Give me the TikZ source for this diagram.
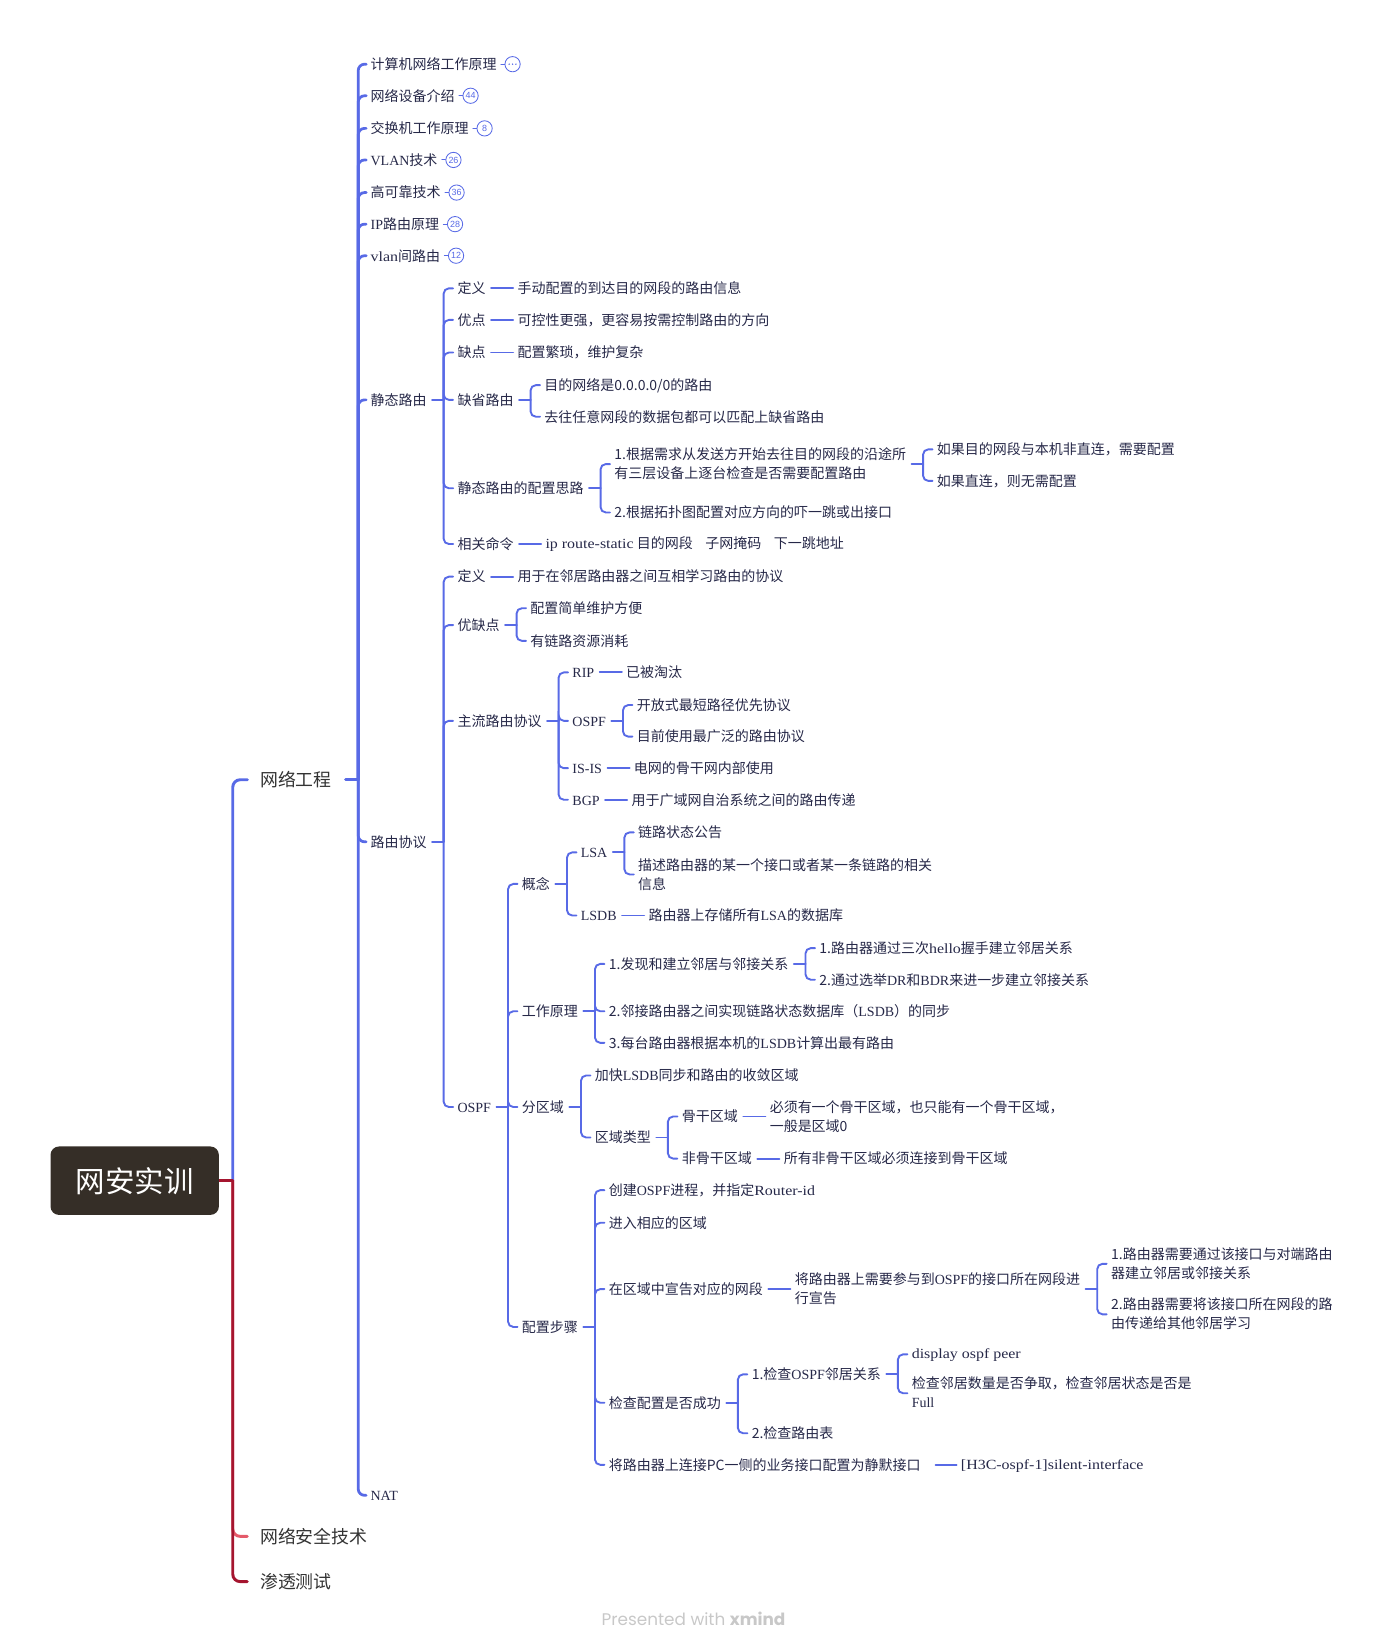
\documentclass[tikz,border=0pt]{standalone}
\usepackage{fontspec}
\setmainfont{Noto Sans CJK SC}
\newfontfamily\latf{Liberation Serif}
\newfontfamily\latw[FakeStretch=1.14]{Liberation Serif}
\newfontfamily\dotf{Liberation Sans}
\newfontfamily\wmf{Poppins}
\usetikzlibrary{calc}
\definecolor{bl}{RGB}{88,106,230}
\definecolor{tx}{RGB}{38,40,72}
\definecolor{rootc}{RGB}{53,46,39}
\definecolor{dred}{RGB}{165,21,47}
\definecolor{pk}{RGB}{228,90,106}
\definecolor{wmc}{RGB}{200,200,200}
\newcommand\st{\rule[-0.12em]{0pt}{1em}}
\newcommand\e[1]{{\latf #1}}
\newcommand\ew[1]{{\latw #1}}
\newcommand\fk[4]{\path let \p1=(#2.east) in node[txt,anchor=west] (#1) at (\x1+29pt,-#3pt) {#4};}
\newcommand\sk[4][30]{\path let \p1=(#3.east) in node[txt,anchor=west] (#2) at (\x1+#1pt,\y1) {#4};}
\newcommand\fork[2]{%
  \coordinate (bus) at ($(#1.east)+(16,0)$);
  \draw[conn] ($(#1.east)+(5,0)$) -- (bus);
  \foreach \cc in {#2}{\draw[conn,rounded corners=5pt] (bus) |- ($(\cc.west)+(-4,0)$);}}
\newcommand\one[2]{\draw[conn] ($(#1.east)+(5,0)$) -- ($(#2.west)+(-4,0)$);}
\newcommand\badge[2]{\node[badge] (#1b) at ($(#1.east)+(15,0)$) {#2};
  \draw[conn,line width=1pt] ($(#1.east)+(4,0)$) -- (#1b.west);}
\tikzset{
  txt/.style={inner sep=0pt, text=tx, font=\fontsize{13.3}{18}\selectfont, align=left, execute at begin node=\st},
  mainT/.style={inner sep=0pt, text={rgb,255:red,51;green,51;blue,51}, font=\fontsize{17}{20}\selectfont, execute at begin node=\st},
  conn/.style={draw=bl, line width=1.8pt, line cap=round},
  badge/.style={circle, draw=bl, line width=0.8pt, minimum size=14.5pt, inner sep=0pt, text=bl, font=\dotf\fontsize{8.5}{8.5}\selectfont},
  rootbox/.style={fill=rootc, rounded corners=8pt, minimum width=160pt, minimum height=65pt, text=white, font=\fontsize{28}{30}\selectfont},
}
\begin{document}
\begin{tikzpicture}[x=1pt,y=-1pt]
\useasboundingbox (0,0) rectangle (1319,1568);
% root and main topics
\node[rootbox] (root) at (128,1122) {网安实训};
\node[mainT,anchor=west] (top) at (247,741) {网络工程};
\node[mainT,anchor=west] (sec) at (247,1460) {网络安全技术};
\node[mainT,anchor=west] (pen) at (247,1503) {渗透测试};
\coordinate (tj) at ($(root.east)+(13,0)$);
\draw[conn,line width=2.8pt,rounded corners=7pt] (tj) |- ($(top.west)+(-12,0)$);
\draw[draw=pk,line width=2.8pt,rounded corners=7pt,line cap=round] (tj) |- ($(sec.west)+(-12,0)$);
\draw[draw=dred,line width=2.8pt,rounded corners=7pt,line cap=round] (tj) |- ($(pen.west)+(-12,0)$);
\draw[draw=dred,line width=2.8pt] (root.east) -- (tj);
% level 1
\node[txt,anchor=west] (a1) at (352,61) {计算机网络工作原理};
\node[txt,anchor=west] (a2) at (352,91) {网络设备介绍};
\node[txt,anchor=west] (a3) at (352,122) {交换机工作原理};
\node[txt,anchor=west] (a4) at (352,152) {\e{VLAN}技术};
\node[txt,anchor=west] (a5) at (352,183) {高可靠技术};
\node[txt,anchor=west] (a6) at (352,213) {\e{IP}路由原理};
\node[txt,anchor=west] (a7) at (352,243) {\ew{vlan}间路由};
\node[txt,anchor=west] (a8) at (352,380) {静态路由};
\node[txt,anchor=west] (a9) at (352,800) {路由协议};
\node[txt,anchor=west] (a10) at (352,1421) {\e{NAT}};
\coordinate (b0) at ($(top.east)+(25,0)$);
\draw[conn,line width=2.8pt] ($(top.east)+(13,0)$) -- (b0);
\foreach \cc in {a1,a2,a3,a4,a5,a6,a7,a8,a9,a10}{\draw[conn,line width=2.6pt,rounded corners=6pt] (b0) |- ($(\cc.west)+(-4,0)$);}
\badge{a1}{}
\foreach \dx in {-3.2,0,3.2}{\fill[bl] ($(a1b.center)+(\dx,0)$) circle (0.75);}
\badge{a2}{44}
\badge{a3}{8}
\badge{a4}{26}
\badge{a5}{36}
\badge{a6}{28}
\badge{a7}{12}
% 静态路由
\fk{s1}{a8}{274}{定义}
\fk{s2}{a8}{304}{优点}
\fk{s3}{a8}{335}{缺点}
\fk{s4}{a8}{380}{缺省路由}
\fk{s5}{a8}{464}{静态路由的配置思路}
\fk{s6}{a8}{517}{相关命令}
\fork{a8}{s1,s2,s3,s4,s5,s6}
\sk{s1a}{s1}{手动配置的到达目的网段的路由信息}\one{s1}{s1a}
\sk{s2a}{s2}{可控性更强，更容易按需控制路由的方向}\one{s2}{s2a}
\sk{s3a}{s3}{配置繁琐，维护复杂}\one{s3}{s3a}
\fk{s4a}{s4}{366}{目的网络是0.0.0.0/0的路由}
\fk{s4b}{s4}{396}{去往任意网段的数据包都可以匹配上缺省路由}
\fork{s4}{s4a,s4b}
\fk{s5a}{s5}{441}{1.根据需求从发送方开始去往目的网段的沿途所\\\st 有三层设备上逐台检查是否需要配置路由}
\fk{s5b}{s5}{487}{2.根据拓扑图配置对应方向的吓一跳或出接口}
\fork{s5}{s5a,s5b}
\fk{s5a1}{s5a}{427}{如果目的网段与本机非直连，需要配置}
\fk{s5a2}{s5a}{457}{如果直连，则无需配置}
\fork{s5a}{s5a1,s5a2}
\sk{s6a}{s6}{\ew{ip route-static} 目的网段\hspace{0.9em}子网掩码\hspace{0.9em}下一跳地址}\one{s6}{s6a}
% 路由协议
\fk{r1}{a9}{548}{定义}
\fk{r2}{a9}{594}{优缺点}
\fk{r3}{a9}{685}{主流路由协议}
\fk{r4}{a9}{1052}{\e{OSPF}}
\fork{a9}{r1,r2,r3,r4}
\sk{r1a}{r1}{用于在邻居路由器之间互相学习路由的协议}\one{r1}{r1a}
\fk{r2a}{r2}{578}{配置简单维护方便}
\fk{r2b}{r2}{609}{有链路资源消耗}
\fork{r2}{r2a,r2b}
\fk{p1}{r3}{639}{\e{RIP}}
\fk{p2}{r3}{685}{\e{OSPF}}
\fk{p3}{r3}{730}{\e{IS-IS}}
\fk{p4}{r3}{760}{\e{BGP}}
\fork{r3}{p1,p2,p3,p4}
\sk{p1a}{p1}{已被淘汰}\one{p1}{p1a}
\fk{p2a}{p2}{670}{开放式最短路径优先协议}
\fk{p2b}{p2}{700}{目前使用最广泛的路由协议}
\fork{p2}{p2a,p2b}
\sk{p3a}{p3}{电网的骨干网内部使用}\one{p3}{p3a}
\sk{p4a}{p4}{用于广域网自治系统之间的路由传递}\one{p4}{p4a}
% OSPF
\fk{o1}{r4}{840}{概念}
\fk{o2}{r4}{961}{工作原理}
\fk{o3}{r4}{1052}{分区域}
\fk{o4}{r4}{1261}{配置步骤}
\fork{r4}{o1,o2,o3,o4}
\fk{o1a}{o1}{810}{\e{LSA}}
\fk{o1b}{o1}{870}{\e{LSDB}}
\fork{o1}{o1a,o1b}
\fk{o1a1}{o1a}{791}{链路状态公告}
\fk{o1a2}{o1a}{831}{描述路由器的某一个接口或者某一条链路的相关\\\st 信息}
\fork{o1a}{o1a1,o1a2}
\sk{o1b1}{o1b}{路由器上存储所有\e{LSA}的数据库}\one{o1b}{o1b1}
\fk{o2a}{o2}{916}{1.发现和建立邻居与邻接关系}
\fk{o2b}{o2}{961}{2.邻接路由器之间实现链路状态数据库（\e{LSDB}）的同步}
\fk{o2c}{o2}{991}{3.每台路由器根据本机的\e{LSDB}计算出最有路由}
\fork{o2}{o2a,o2b,o2c}
\fk{o2a1}{o2a}{901}{1.路由器通过三次\ew{hello}握手建立邻居关系}
\fk{o2a2}{o2a}{931}{2.通过选举\e{DR}和\e{BDR}来进一步建立邻接关系}
\fork{o2a}{o2a1,o2a2}
\fk{o3a}{o3}{1022}{加快\e{LSDB}同步和路由的收敛区域}
\fk{o3b}{o3}{1081}{区域类型}
\fork{o3}{o3a,o3b}
\fk{o3b1}{o3b}{1061}{骨干区域}
\fk{o3b2}{o3b}{1101}{非骨干区域}
\fork{o3b}{o3b1,o3b2}
\sk{o3b1a}{o3b1}{必须有一个骨干区域，也只能有一个骨干区域，\\\st 一般是区域0}\one{o3b1}{o3b1a}
\sk{o3b2a}{o3b2}{所有非骨干区域必须连接到骨干区域}\one{o3b2}{o3b2a}
\fk{o4a}{o4}{1131}{创建\e{OSPF}进程，并指定\ew{Router-id}}
\fk{o4b}{o4}{1162}{进入相应的区域}
\fk{o4c}{o4}{1225}{在区域中宣告对应的网段}
\fk{o4d}{o4}{1333}{检查配置是否成功}
\fk{o4e}{o4}{1392}{将路由器上连接PC一侧的业务接口配置为静默接口}
\fork{o4}{o4a,o4b,o4c,o4d,o4e}
\sk{o4c1}{o4c}{将路由器上需要参与到\e{OSPF}的接口所在网段进\\\st 行宣告}\one{o4c}{o4c1}
\fk{o4c1a}{o4c1}{1201}{1.路由器需要通过该接口与对端路由\\\st 器建立邻居或邻接关系}
\fk{o4c1b}{o4c1}{1249}{2.路由器需要将该接口所在网段的路\\\st 由传递给其他邻居学习}
\fork{o4c1}{o4c1a,o4c1b}
\fk{o4d1}{o4d}{1306}{1.检查\e{OSPF}邻居关系}
\fk{o4d2}{o4d}{1362}{2.检查路由表}
\fork{o4d}{o4d1,o4d2}
\fk{o4d1a}{o4d1}{1287}{\ew{display ospf peer}}
\fk{o4d1b}{o4d1}{1324}{检查邻居数量是否争取，检查邻居状态是否是\\\st\e{Full}}
\fork{o4d1}{o4d1a,o4d1b}
\sk[38]{o4e1}{o4e}{\ew{[H3C-ospf-1]silent-interface}}
\draw[conn] ($(o4e.east)+(14,0)$) -- ($(o4e1.west)+(-4,0)$);
% watermark
\node[font=\wmf\fontsize{16}{16}\selectfont, text=wmc] (wm) at (659,1538) {Presented with \textbf{xmind}};
\end{tikzpicture}
\end{document}
